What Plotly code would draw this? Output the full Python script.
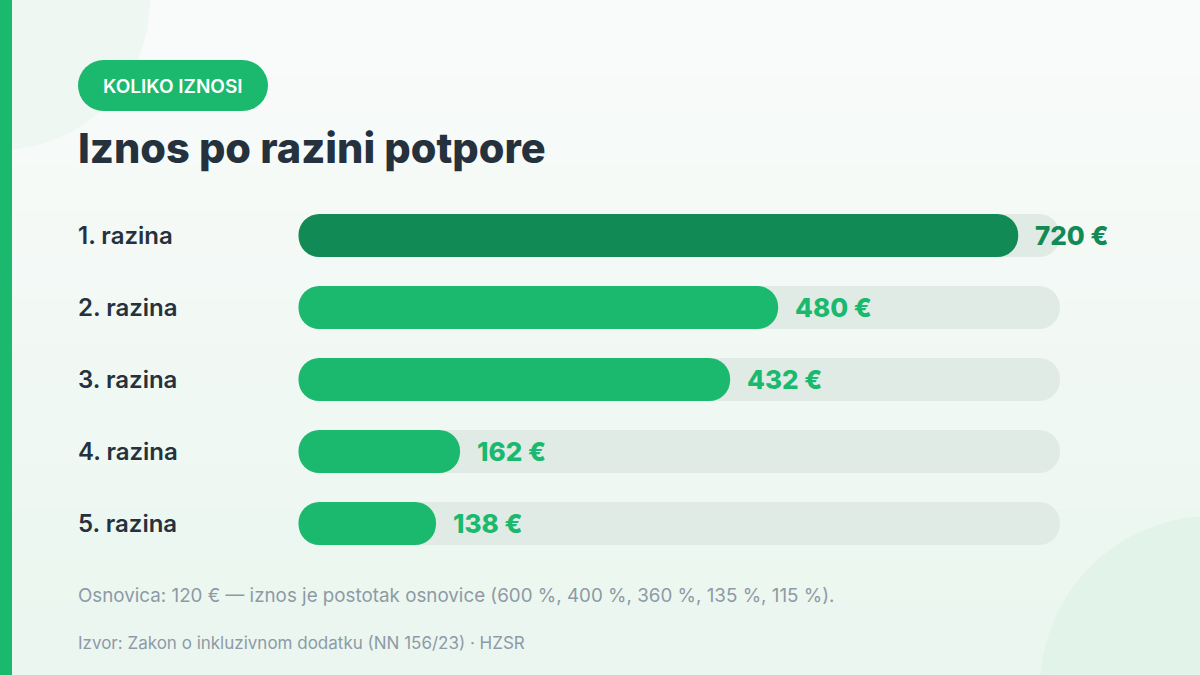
import plotly.graph_objects as go

# data
levels = ["1. razina", "2. razina", "3. razina", "4. razina", "5. razina"]
amounts = [720, 480, 432, 162, 138]
percents = [600, 400, 360, 135, 115]
base_amount = 120
source = "Izvor: Zakon o inkluzivnom dodatku (NN 156/23) · HZSR"

W, H = 1200, 675
GREEN = "#1bb96e"
DARK_GREEN = "#128a55"
TRACK = "#e1ebe6"
INK = "#25323d"
MUTED = "#8e9aa6"
FONT = "Inter, 'Open Sans', sans-serif"


def px(x):
    return x / W


def py(y):
    return 1 - y / H


track_max = max(amounts) * 1.058
radius = 21.5

fig = go.Figure()


def add_rounded(values, color):
    # a non-zero base makes plotly round both ends of the bar
    fig.add_trace(go.Bar(
        y=levels, x=[v - 0.5 for v in values], base=[0.5] * len(values),
        orientation="h", width=0.6, marker=dict(color=color, cornerradius=radius, line=dict(width=0)),
        hoverinfo="skip",
    ))


add_rounded([track_max] * len(levels), TRACK)
bar_colors = [DARK_GREEN if a == max(amounts) else GREEN for a in amounts]
add_rounded(amounts, bar_colors)

annotations = []
for lvl, amt, col in zip(levels, amounts, bar_colors):
    annotations.append(dict(
        x=px(76), xref="paper", y=lvl, yref="y", text=lvl, showarrow=False,
        xanchor="left", yanchor="middle",
        font=dict(family=FONT, size=24, color=INK, weight=600),
    ))
    annotations.append(dict(
        x=amt, xref="x", y=lvl, yref="y", text=f"{amt} €", showarrow=False,
        xanchor="left", yanchor="middle", xshift=15,
        font=dict(family=FONT, size=26, color=col, weight=800),
    ))

annotations += [
    dict(x=px(173), y=py(86), xref="paper", yref="paper", text="KOLIKO IZNOSI", showarrow=False,
         xanchor="center", yanchor="middle", font=dict(family=FONT, size=19, color="white", weight=600)),
    dict(x=px(76), y=py(148), xref="paper", yref="paper", text="Iznos po razini potpore", showarrow=False,
         xanchor="left", yanchor="middle", font=dict(family=FONT, size=41.5, color=INK, weight=800)),
    dict(x=px(76), y=py(595), xref="paper", yref="paper",
         text=f"Osnovica: {base_amount} € — iznos je postotak osnovice ("
              + ", ".join(f"{p} %" for p in percents) + ").",
         showarrow=False, xanchor="left", yanchor="middle",
         font=dict(family=FONT, size=18.8, color=MUTED)),
    dict(x=px(76), y=py(643), xref="paper", yref="paper", text=source, showarrow=False,
         xanchor="left", yanchor="middle", font=dict(family=FONT, size=17, color=MUTED)),
]

shapes = []
# vertical background gradient
top_rgb, bot_rgb = (249, 251, 250), (234, 246, 239)
bands = 45
for i in range(bands):
    t = i / (bands - 1)
    c = tuple(round(a + (b - a) * t) for a, b in zip(top_rgb, bot_rgb))
    shapes.append(dict(type="rect", xref="paper", yref="paper", x0=0, x1=1,
                       y0=1 - (i + 1) / bands - 0.002, y1=1 - i / bands,
                       fillcolor=f"rgb{c}", line=dict(width=0), layer="below"))
# decorative corner circles
shapes.append(dict(type="circle", xref="paper", yref="paper", x0=px(-150), x1=px(150),
                   y0=py(150), y1=py(-150), fillcolor="#eef7f2", line=dict(width=0), layer="below"))
shapes.append(dict(type="circle", xref="paper", yref="paper", x0=px(1212 - 172), x1=px(1212 + 172),
                   y0=py(688 + 172), y1=py(688 - 172), fillcolor="#e2f3e9", line=dict(width=0), layer="below"))
# left accent strip
shapes.append(dict(type="rect", xref="paper", yref="paper", x0=0, x1=px(12), y0=0, y1=1,
                   fillcolor=GREEN, line=dict(width=0), layer="below"))
# pill
r = 25.5
shapes += [
    dict(type="rect", xref="paper", yref="paper", x0=px(78 + r), x1=px(268 - r), y0=py(111), y1=py(60),
         fillcolor=GREEN, line=dict(width=0), layer="below"),
    dict(type="circle", xref="paper", yref="paper", x0=px(78), x1=px(78 + 2 * r), y0=py(111), y1=py(60),
         fillcolor=GREEN, line=dict(width=0), layer="below"),
    dict(type="circle", xref="paper", yref="paper", x0=px(268 - 2 * r), x1=px(268), y0=py(111), y1=py(60),
         fillcolor=GREEN, line=dict(width=0), layer="below"),
]

fig.update_layout(
    width=W, height=H, margin=dict(l=0, r=0, t=0, b=0),
    paper_bgcolor="#f4f9f6", plot_bgcolor="rgba(0,0,0,0)",
    barmode="overlay", showlegend=False,
    xaxis=dict(domain=[px(298), px(1060)], range=[0, track_max], visible=False, fixedrange=True),
    yaxis=dict(domain=[py(559.5), py(199.5)], autorange="reversed", visible=False, fixedrange=True,
               categoryorder="array", categoryarray=levels),
    annotations=annotations, shapes=shapes,
)

fig.write_html("out.html", config={"displayModeBar": False},
               post_script="document.body.style.margin='0';")
